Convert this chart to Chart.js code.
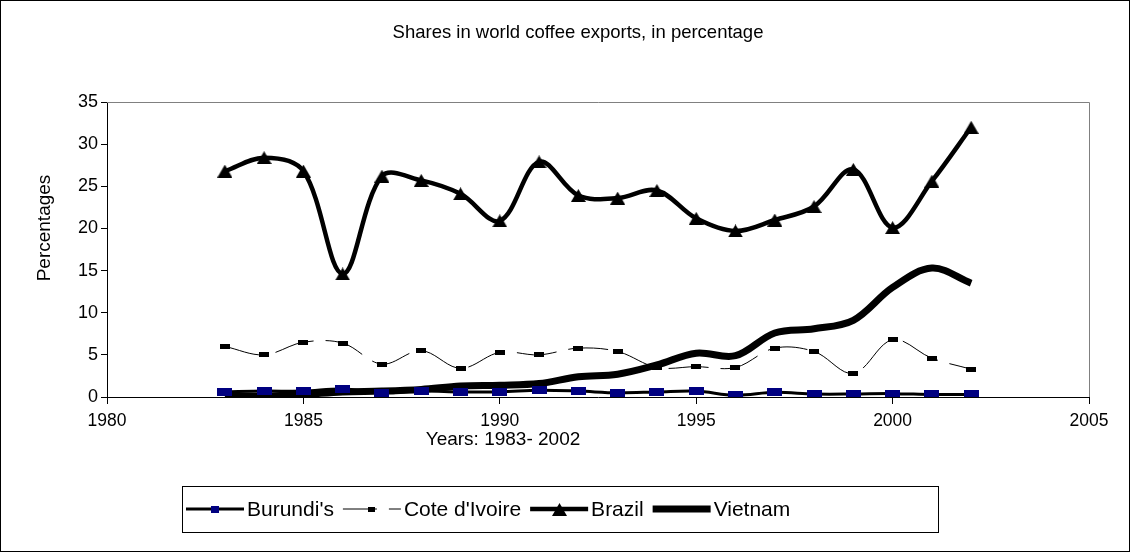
<!DOCTYPE html>
<html>
<head>
<meta charset="utf-8">
<script src="https://cdn.jsdelivr.net/npm/chart.js@4/dist/chart.umd.min.js"></script>
<style>
  html, body { margin: 0; padding: 0; background: #fff; }
  #wrap { width: 1130px; height: 552px; }
</style>
</head>
<body>
<div id="wrap"><canvas id="c" width="1130" height="552"></canvas></div>
<script>
// Years covered by the series
const years = [1983, 1984, 1985, 1986, 1987, 1988, 1989, 1990, 1991, 1992,
               1993, 1994, 1995, 1996, 1997, 1998, 1999, 2000, 2001, 2002];

// Shares in world coffee exports (%)
const burundi = [0.6, 0.7, 0.7, 0.95, 0.5, 0.7, 0.6, 0.6, 0.8, 0.7,
                 0.5, 0.6, 0.7, 0.2, 0.55, 0.35, 0.35, 0.4, 0.3, 0.3];
const coteDIvoire = [6.0, 5.0, 6.5, 6.4, 3.9, 5.5, 3.4, 5.3, 5.0, 5.8,
                     5.4, 3.5, 3.6, 3.5, 5.8, 5.4, 2.8, 6.8, 4.6, 3.3];
const brazil = [26.8, 28.4, 26.8, 14.6, 26.2, 25.7, 24.1, 20.9, 27.9, 23.9,
                23.6, 24.5, 21.2, 19.7, 21.0, 22.6, 27.0, 20.1, 25.6, 32.0];
const vietnam = [0.1, 0.1, 0.3, 0.6, 0.7, 0.9, 1.3, 1.4, 1.6, 2.4,
                 2.7, 3.8, 5.2, 4.9, 7.6, 8.1, 9.1, 13.0, 15.3, 13.5];

// Axis ticks
const xTicks = [1980, 1985, 1990, 1995, 2000, 2005];
const yTicks = [0, 5, 10, 15, 20, 25, 30, 35];

const seriesNames = ["Burundi's", "Cote d'Ivoire", "Brazil", "Vietnam"];
const chartTitle = 'Shares in world coffee exports, in percentage';
const xTitle = 'Years: 1983- 2002';
const yTitle = 'Percentages';

const FONT = '"Liberation Sans", Arial, sans-serif';

// Small marker bitmaps used as point styles
function marker(w, h, color, shape) {
  const c = document.createElement('canvas');
  c.width = w; c.height = h;
  const g = c.getContext('2d');
  g.fillStyle = color;
  if (shape === 'tri') {
    g.beginPath();
    g.moveTo(w / 2, 0);
    g.lineTo(w, h);
    g.lineTo(0, h);
    g.closePath();
    g.fill();
  } else {
    g.fillRect(0, 0, w, h);
  }
  return c;
}
const navyRect = marker(15, 8, '#000080', 'rect');
const blackRect = marker(10, 5, '#000000', 'rect');
const blackTri = marker(15, 13, '#000000', 'tri');
// legend swatch markers
const legendMarks = [marker(8, 7, '#000080', 'rect'), marker(7, 5, '#000000', 'rect'), blackTri, null];

const toPoints = arr => years.map((y, i) => ({ x: y, y: arr[i] }));

const datasets = [
  { label: seriesNames[0], data: toPoints(burundi), borderColor: '#000', borderWidth: 3,
    pointStyle: navyRect, pointRadius: 5, tension: 0.35 },
  { label: seriesNames[1], data: toPoints(coteDIvoire), borderColor: '#000', borderWidth: 1,
    borderDash: [40, 12], pointStyle: blackRect, pointRadius: 5, tension: 0.35 },
  { label: seriesNames[2], data: toPoints(brazil), borderColor: '#000', borderWidth: 4.5,
    pointStyle: blackTri, pointRadius: 5, tension: 0.35 },
  { label: seriesNames[3], data: toPoints(vietnam), borderColor: '#000', borderWidth: 7,
    pointRadius: 0, tension: 0.35 }
];

// Frame, titles and the boxed legend
const decorations = {
  id: 'decorations',
  beforeDatasetsDraw(chart) {
    const { ctx, chartArea: a } = chart;
    ctx.save();
    ctx.strokeStyle = '#808080';
    ctx.lineWidth = 1;
    ctx.beginPath();
    ctx.moveTo(a.left, Math.round(a.top) + 0.5);
    ctx.lineTo(Math.round(a.right) + 0.5, Math.round(a.top) + 0.5);
    ctx.lineTo(Math.round(a.right) + 0.5, a.bottom);
    ctx.stroke();
    ctx.restore();
  },
  afterDraw(chart) {
    const { ctx } = chart;
    ctx.save();
    // outer border
    ctx.strokeStyle = '#000';
    ctx.lineWidth = 1;
    ctx.strokeRect(0.5, 0.5, chart.width - 1, chart.height - 1);

    ctx.fillStyle = '#000';
    ctx.textBaseline = 'middle';
    ctx.textAlign = 'center';
    ctx.font = '18.5px ' + FONT;
    ctx.fillText(chartTitle, 578, 33);

    ctx.font = '19px ' + FONT;
    ctx.fillText(xTitle, 503, 440);

    ctx.save();
    ctx.translate(45, 228);
    ctx.rotate(-Math.PI / 2);
    ctx.fillText(yTitle, 0, 0);
    ctx.restore();

    // legend
    const box = { l: 182, t: 486, r: 938, b: 532 };
    ctx.strokeRect(box.l + 0.5, box.t + 0.5, box.r - box.l, box.b - box.t);
    ctx.font = '21px ' + FONT;
    ctx.textAlign = 'left';
    const cy = (box.t + box.b) / 2;
    let x = 186;
    const sampleLen = 58;
    chart.data.datasets.forEach((ds, i) => {
      ctx.save();
      ctx.strokeStyle = ds.borderColor;
      ctx.lineWidth = ds.borderWidth;
      ctx.setLineDash(ds.borderDash ? [34, 12] : []);
      ctx.beginPath();
      ctx.moveTo(x, cy);
      ctx.lineTo(x + sampleLen, cy);
      ctx.stroke();
      const m = legendMarks[i];
      if (m) {
        ctx.drawImage(m, Math.round(x + sampleLen / 2 - m.width / 2), Math.round(cy - m.height / 2));
      }
      ctx.restore();
      ctx.fillText(ds.label, x + sampleLen + 3, cy + 1);
      x += sampleLen + 3 + ctx.measureText(ds.label).width + 9;
    });
    ctx.restore();
  }
};

new Chart(document.getElementById('c'), {
  type: 'line',
  data: { datasets },
  plugins: [decorations],
  options: {
    responsive: false,
    animation: false,
    devicePixelRatio: 1,
    layout: { padding: { left: 0, top: 102, right: 41, bottom: 117 } },
    elements: { line: { borderJoinStyle: 'round', borderCapStyle: 'butt' } },
    plugins: { legend: { display: false }, title: { display: false }, tooltip: { enabled: false } },
    scales: {
      x: {
        type: 'linear', min: 1980, max: 2005,
        afterBuildTicks: s => { s.ticks = xTicks.map(v => ({ value: v })); },
        afterFit: s => { s.height = 38; },
        border: { display: true, color: '#000', width: 1 },
        grid: { drawOnChartArea: false, drawTicks: true, tickLength: 7, color: '#000' },
        ticks: { color: '#000', font: { family: FONT, size: 17.5 }, padding: 7, maxRotation: 0, autoSkip: false,
                 callback: v => String(v) }
      },
      y: {
        min: 0, max: 35,
        afterBuildTicks: s => { s.ticks = yTicks.map(v => ({ value: v })); },
        afterFit: s => { s.width = 107; },
        border: { display: true, color: '#000', width: 1 },
        grid: { drawOnChartArea: false, drawTicks: true, tickLength: 6, color: '#000' },
        ticks: { color: '#000', font: { family: FONT, size: 18 }, padding: 3 }
      }
    }
  }
});
</script>
</body>
</html>
